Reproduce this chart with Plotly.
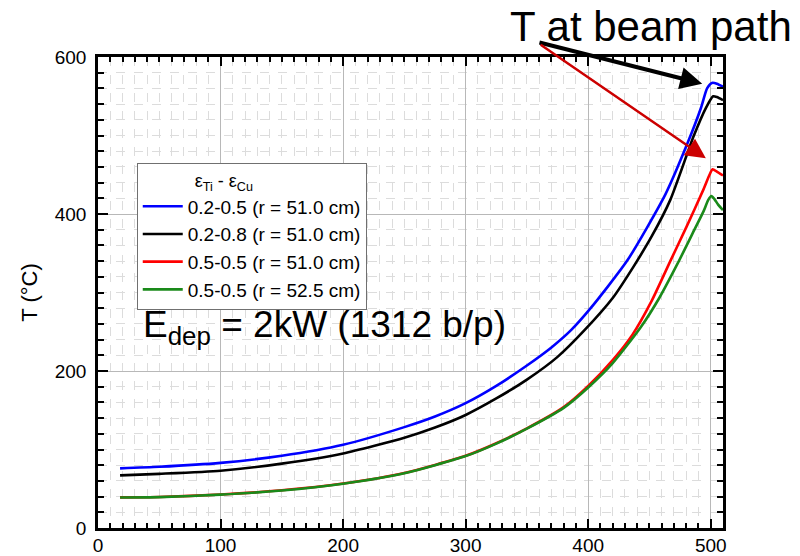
import plotly.graph_objects as go

# ---- data ----
x_blue = [18, 50, 100, 150, 200, 250, 275, 300, 325, 350, 370, 386, 402, 432, 463, 481, 492, 497, 501, 505, 510]
T_blue = [76, 78, 83, 92, 106, 128.5, 142, 159, 181, 207, 230, 252, 280, 341, 425, 490, 535, 560, 567, 566, 562]

x_black = [18, 50, 100, 150, 200, 250, 275, 300, 325, 350, 375, 397, 420, 437, 452, 467, 486, 496, 502, 505, 510]
T_black = [67, 69, 73, 82, 95, 115, 128, 144, 165, 189, 218, 252, 293, 333, 372, 418, 499, 535, 550, 549, 545]

x_red = [18, 50, 100, 150, 200, 250, 300, 325, 350, 380, 400, 420, 436, 452, 467, 480, 494, 499, 501.5, 505, 510]
T_red = [39, 39.5, 42.6, 48, 56.6, 70, 92, 108, 127, 154, 181, 214, 246, 290, 340, 383, 431, 450, 457, 454, 449]

x_green = [18, 50, 100, 150, 200, 250, 300, 325, 350, 380, 400, 420, 443, 458, 473, 487, 494, 498, 500.5, 503, 506, 510]
T_green = [38.8, 39.3, 42.5, 47.8, 56.4, 69.7, 91.6, 107.5, 126.5, 153, 179, 210, 256, 293, 337, 381, 403, 418, 423, 419, 412, 405]

series = [
    ("0.2-0.5 (r = 51.0 cm)", x_blue, T_blue, "#0000ff"),
    ("0.2-0.8 (r = 51.0 cm)", x_black, T_black, "#000000"),
    ("0.5-0.5 (r = 51.0 cm)", x_red, T_red, "#ff0000"),
    ("0.5-0.5 (r = 52.5 cm)", x_green, T_green, "#1a8a1a"),
]

FONT = "Liberation Sans, Arial, sans-serif"

fig = go.Figure()
for name, xs, ys, col in series:
    fig.add_trace(go.Scatter(x=xs, y=ys, mode="lines", name=name,
                             line=dict(color=col, width=2.6, shape="spline", smoothing=0.6)))

axis_common = dict(
    ticks="inside", tickwidth=2, tickcolor="black", automargin=False,
    showline=True, linewidth=2.5, linecolor="black", mirror="allticks",
    showgrid=True, gridcolor="#b8b8b8", gridwidth=1, zeroline=False,
    tickfont=dict(family=FONT, size=19, color="black"),
)

fig.update_xaxes(range=[0, 510], tickmode="linear", tick0=0, dtick=100, ticklen=9,
                 ticklabelstandoff=-2,
                 minor=dict(dtick=10, ticks="inside", ticklen=5, tickwidth=1.5, tickcolor="black",
                            showgrid=True, gridcolor="#dcdcdc", griddash="dash", gridwidth=1),
                 **axis_common)
fig.update_yaxes(range=[0, 600], tickmode="linear", tick0=0, dtick=200, ticklen=10,
                 ticklabelstandoff=5,
                 title=dict(text="T (°C)", font=dict(family=FONT, size=22, color="black"), standoff=12),
                 minor=dict(dtick=20, ticks="inside", ticklen=6, tickwidth=1.5, tickcolor="black",
                            showgrid=True, gridcolor="#dcdcdc", griddash="dash", gridwidth=1),
                 **axis_common)

fig.update_layout(
    width=800, height=556,
    margin=dict(l=98, r=77, t=57, b=28),
    plot_bgcolor="white", paper_bgcolor="white",
    font=dict(family=FONT, color="black"),
    legend=dict(
        x=0.062, y=0.775, xanchor="left", yanchor="top",
        bgcolor="white", bordercolor="#707070", borderwidth=1,
        font=dict(family=FONT, size=19, color="black"),
        itemwidth=40, tracegroupgap=0,
        title=dict(text="&nbsp;&nbsp;&nbsp;&nbsp;&nbsp;&nbsp;&nbsp;&nbsp;&nbsp;&nbsp;&nbsp;ε<sub>Ti</sub> - ε<sub>Cu</sub>",
                   font=dict(family=FONT, size=18, color="black"), side="top"),
    ),
    showlegend=True,
)

# Text annotations
fig.add_annotation(text="T at beam path", xref="paper", yref="paper", x=0.656, y=1.064,
                   xanchor="left", yanchor="middle", showarrow=False,
                   font=dict(family=FONT, size=42, color="black"))
fig.add_annotation(text="E<sub>dep</sub> = 2kW (1312 b/p)", xref="paper", yref="paper",
                   x=0.068, y=0.427, xanchor="left", yanchor="middle", showarrow=False,
                   font=dict(family=FONT, size=37, color="black"))

# Arrows
fig.add_annotation(text=" ", x=493, y=566, xref="x", yref="y", ax=359, ay=619, axref="x", ayref="y",
                   showarrow=True, arrowhead=2, arrowsize=1.1, arrowwidth=4, arrowcolor="black",
                   font=dict(size=1), standoff=0)
fig.add_annotation(text=" ", x=496, y=471, xref="x", yref="y", ax=360, ay=617, axref="x", ayref="y",
                   showarrow=True, arrowhead=2, arrowsize=1.6, arrowwidth=2.5, arrowcolor="#cc0000",
                   font=dict(size=1), standoff=0)

fig.write_html("out.html")
